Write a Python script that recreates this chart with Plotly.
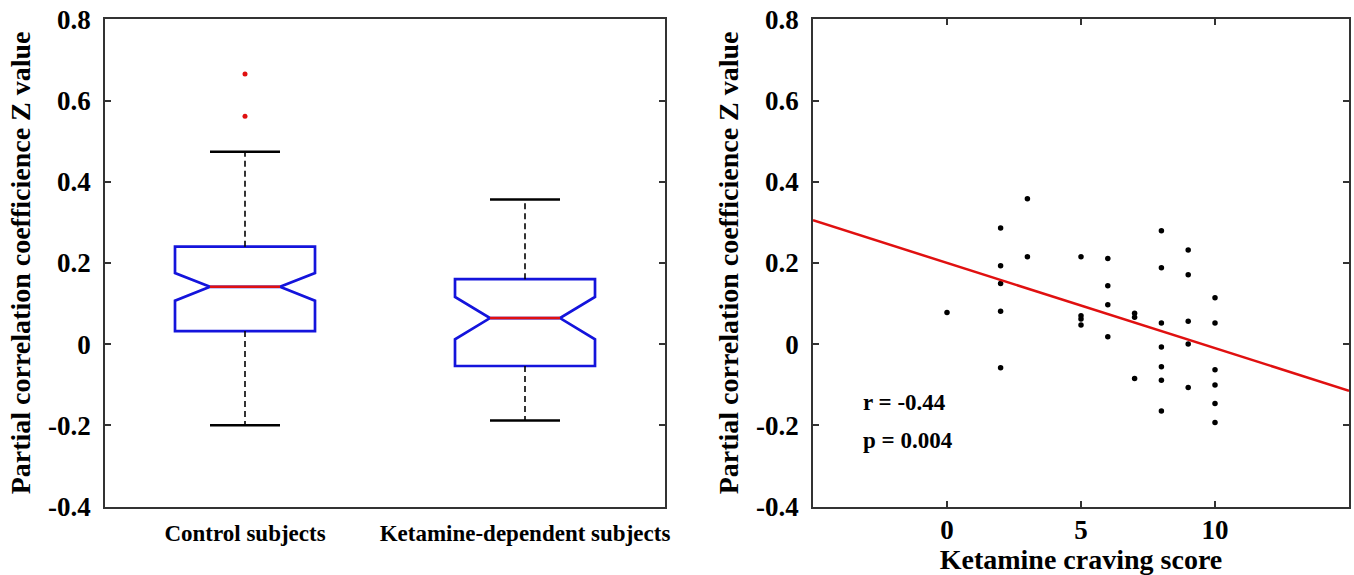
import plotly.graph_objects as go

# ---------------- data ----------------
groups = ["Control subjects", "Ketamine-dependent subjects"]
group_pos = [1, 2]
q1 = [0.032, -0.054]
median = [0.141, 0.064]
q3 = [0.240, 0.160]
lower_whisker = [-0.200, -0.188]
upper_whisker = [0.474, 0.356]
notch_half = [0.034, 0.052]
outlier_group = [1, 1]
outlier_values = [0.665, 0.561]

craving = [0, 2, 2, 2, 2, 2, 3, 3, 5, 5, 5, 5, 6, 6, 6, 6, 7, 7, 7,
           8, 8, 8, 8, 8, 8, 8, 9, 9, 9, 9, 9, 10, 10, 10, 10, 10, 10]
zvals = [0.078, 0.286, 0.193, 0.149, 0.081, -0.058, 0.358, 0.215,
         0.215, 0.070, 0.062, 0.047, 0.211, 0.144, 0.097, 0.018,
         0.076, 0.066, -0.085, 0.279, 0.188, 0.052, -0.007, -0.056, -0.089, -0.165,
         0.232, 0.171, 0.056, 0.000, -0.107,
         0.114, 0.052, -0.063, -0.101, -0.146, -0.193]
fit_intercept = 0.200
fit_slope = -0.021
fit_x_range = [-5, 15]
stats_text = ["r = -0.44", "p = 0.004"]

y_tickvals = [0.8, 0.6, 0.4, 0.2, 0, -0.2, -0.4]
y_ticktext = ["0.8", "0.6", "0.4", "0.2", "0", "-0.2", "-0.4"]
x2_tickvals = [0, 5, 10]
x2_ticktext = ["0", "5", "10"]

# ---------------- style ----------------
FONT = "Liberation Serif, Times New Roman, serif"
BLUE = "#1414dc"
RED = "#e01010"
FRAME = "#333333"
BOX_W = 0.5

fig = go.Figure()

for i, g in enumerate(groups):
    fig.add_trace(go.Box(
        x=[group_pos[i]], q1=[q1[i]], median=[median[i]], q3=[q3[i]],
        lowerfence=[q1[i]], upperfence=[q3[i]], notchspan=[notch_half[i]],
        notched=True, notchwidth=0.25, width=BOX_W, whiskerwidth=0,
        line=dict(color=BLUE, width=2.7), fillcolor="rgba(0,0,0,0)",
        boxpoints=False, showlegend=False, hoverinfo="skip",
        xaxis="x", yaxis="y"))

wx, wy, cx, cy, mx, my = [], [], [], [], [], []
for i in range(len(groups)):
    p = group_pos[i]
    wx += [p, p, None, p, p, None]
    wy += [q3[i], upper_whisker[i], None, q1[i], lower_whisker[i], None]
    cx += [p - BOX_W / 4, p + BOX_W / 4, None, p - BOX_W / 4, p + BOX_W / 4, None]
    cy += [upper_whisker[i], upper_whisker[i], None, lower_whisker[i], lower_whisker[i], None]
    mx += [p - BOX_W / 4, p + BOX_W / 4, None]
    my += [median[i], median[i], None]

fig.add_trace(go.Scatter(x=wx, y=wy, mode="lines", line=dict(color="black", width=1.6, dash="6px,4px"),
                         showlegend=False, hoverinfo="skip", xaxis="x", yaxis="y"))
fig.add_trace(go.Scatter(x=cx, y=cy, mode="lines", line=dict(color="black", width=2.5),
                         showlegend=False, hoverinfo="skip", xaxis="x", yaxis="y"))
fig.add_trace(go.Scatter(x=mx, y=my, mode="lines", line=dict(color=RED, width=2.5),
                         showlegend=False, hoverinfo="skip", xaxis="x", yaxis="y"))
fig.add_trace(go.Scatter(x=outlier_group, y=outlier_values, mode="markers",
                         marker=dict(color=RED, size=5), showlegend=False, xaxis="x", yaxis="y"))

fig.add_trace(go.Scatter(x=craving, y=zvals, mode="markers",
                         marker=dict(color="black", size=5.5), showlegend=False, xaxis="x2", yaxis="y2"))
fig.add_trace(go.Scatter(x=fit_x_range, y=[fit_intercept + fit_slope * v for v in fit_x_range],
                         mode="lines", line=dict(color=RED, width=2.5), showlegend=False,
                         xaxis="x2", yaxis="y2"))

fig.add_annotation(x=-3.2, y=-0.143, xref="x2", yref="y2", text=stats_text[0], showarrow=False,
                   xanchor="left", yanchor="middle", font=dict(family=FONT, size=23, color="black", weight="bold"))
fig.add_annotation(x=-3.2, y=-0.237, xref="x2", yref="y2", text=stats_text[1], showarrow=False,
                   xanchor="left", yanchor="middle", font=dict(family=FONT, size=23, color="black", weight="bold"))

# body margin removed by post_script below, so page px == figure px
W, H = 1354, 575
def fx(px):
    return px / W
def fy(py):
    return 1 - py / H
ydom = [fy(506.5), fy(19.3)]

yaxis_common = dict(
    range=[-0.4, 0.8], tickvals=y_tickvals, ticktext=y_ticktext,
    ticks="inside", ticklen=6, tickwidth=1.5, tickcolor=FRAME,
    showline=True, linecolor=FRAME, linewidth=1.5, mirror="ticks",
    showgrid=False, zeroline=False, automargin=False, ticklabelstandoff=7,
    ticklabeloverflow="allow",
    tickfont=dict(family=FONT, size=27, color="black", weight="bold"),
    title=dict(text="Partial correlation coefficience Z value",
               font=dict(family=FONT, size=28, color="black", weight="bold"), standoff=9),
)

fig.update_layout(
    width=W, height=H,
    margin=dict(l=0, r=0, t=0, b=0, autoexpand=False),
    paper_bgcolor="white", plot_bgcolor="white",
    xaxis=dict(domain=[fx(105), fx(665)], range=[0.5, 2.5], tickvals=group_pos, ticktext=groups,
               ticks="", showline=True, linecolor=FRAME, linewidth=1.5, mirror=True,
               showgrid=False, zeroline=False, anchor="y", ticklabelstandoff=5, automargin=False,
               ticklabeloverflow="allow",
               tickfont=dict(family=FONT, size=23, color="black", weight="bold")),
    yaxis=dict(domain=ydom, anchor="x", **yaxis_common),
    xaxis2=dict(domain=[fx(813), fx(1349)], range=fit_x_range, tickvals=x2_tickvals, ticktext=x2_ticktext,
                ticks="inside", ticklen=6, tickwidth=1.5, tickcolor=FRAME,
                showline=True, linecolor=FRAME, linewidth=1.5, mirror="ticks",
                showgrid=False, zeroline=False, anchor="y2", automargin=False, ticklabelstandoff=-2,
                ticklabeloverflow="allow",
                tickfont=dict(family=FONT, size=27, color="black", weight="bold"),
                title=dict(text="Ketamine craving score",
                           font=dict(family=FONT, size=28, color="black", weight="bold"), standoff=6)),
    yaxis2=dict(domain=ydom, anchor="x2", **yaxis_common),
)

fig.write_html("out.html", config={"displayModeBar": False},
               post_script="document.body.style.margin='0';document.body.style.overflow='hidden';")
